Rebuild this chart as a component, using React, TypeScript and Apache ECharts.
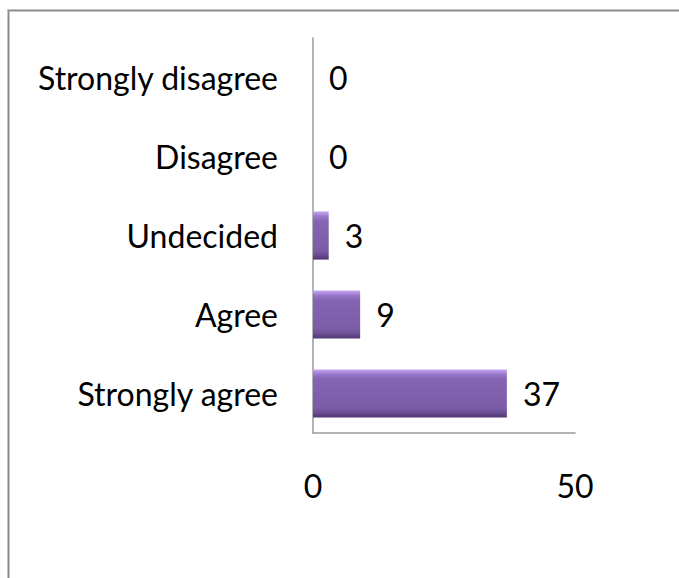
import React, { useEffect, useRef } from "react";
import * as echarts from "echarts";

const categories = ["Strongly disagree", "Disagree", "Undecided", "Agree", "Strongly agree"];
const values = [0, 0, 3, 9, 37];
const xMin = 0;
const xMax = 50;
const xInterval = 50;

const FONT = "Lato";
const FS = 32;

export default function App() {
  const ref = useRef<HTMLDivElement>(null);
  useEffect(() => {
    if (!ref.current) return;
    const chart = echarts.init(ref.current, undefined, { renderer: "svg" });
    chart.setOption({
      animation: false,
      backgroundColor: "#ffffff",
      grid: { left: 313, top: 38, right: 104, bottom: 145, containLabel: false },
      graphic: [
        {
          type: "rect",
          shape: { x: 8.5, y: 10.5, width: 700, height: 600 },
          style: { fill: "none", stroke: "#c4c4c4", lineWidth: 3 },
          silent: true,
        },
        {
          type: "rect",
          shape: { x: 8.5, y: 10.5, width: 700, height: 600 },
          style: { fill: "none", stroke: "#8a8a8a", lineWidth: 1 },
          silent: true,
        },
      ],
      xAxis: {
        type: "value",
        min: xMin,
        max: xMax,
        interval: xInterval,
        splitLine: { show: false },
        axisTick: { show: false },
        axisLine: { show: true, lineStyle: { color: "#9a9a9a", width: 1.5 } },
        axisLabel: { fontFamily: FONT, fontSize: FS, color: "#000", margin: 36 },
      },
      yAxis: {
        type: "category",
        data: categories,
        inverse: true,
        axisTick: { show: false },
        axisLine: { show: true, lineStyle: { color: "#9a9a9a", width: 1.5 } },
        axisLabel: { fontFamily: FONT, fontSize: FS, color: "#000", margin: 35 },
      },
      series: [
        {
          type: "bar",
          data: values,
          barCategoryGap: "39%",
          itemStyle: {
            color: new echarts.graphic.LinearGradient(0, 0, 0, 1, [
              { offset: 0, color: "#c9a8f2" },
              { offset: 0.1, color: "#9a78cc" },
              { offset: 0.2, color: "#8565b2" },
              { offset: 0.8, color: "#7b5ca7" },
              { offset: 0.9, color: "#6b4e94" },
              { offset: 1, color: "#4e3770" },
            ]),
          },
          label: {
            show: true,
            position: "right",
            distance: 16,
            fontFamily: FONT,
            fontSize: FS,
            color: "#000",
          },
        },
      ],
    });
    return () => chart.dispose();
  }, []);
  return (
    <div
      ref={ref}
      style={{ position: "fixed", left: 0, top: 0, width: 679, height: 578, background: "#fff" }}
    />
  );
}
